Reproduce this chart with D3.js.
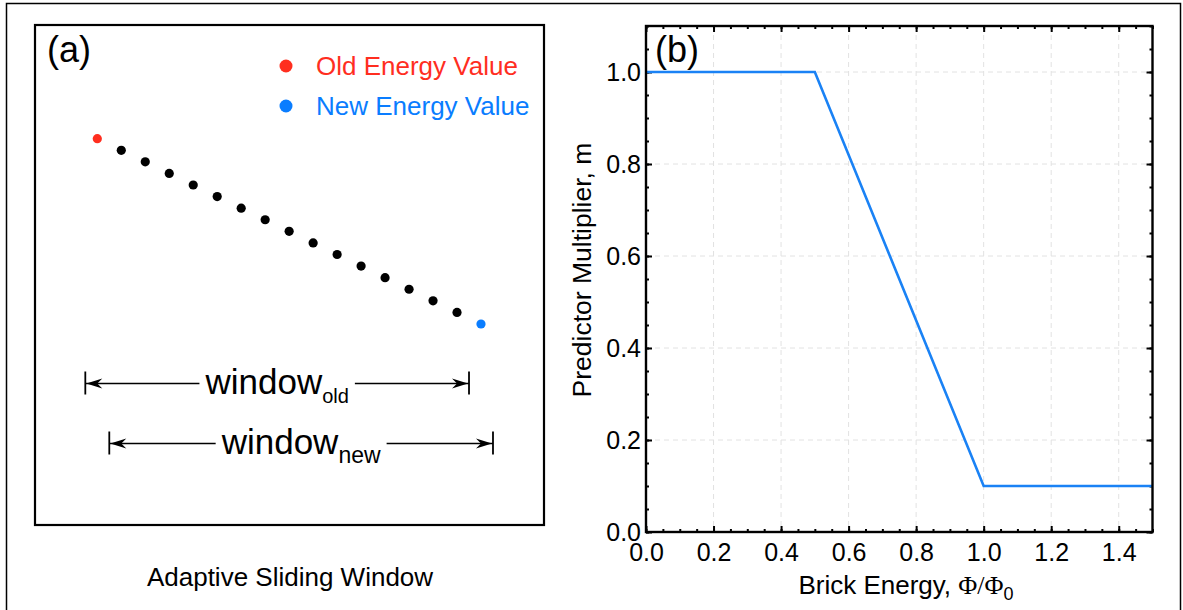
<!DOCTYPE html>
<html>
<head>
<meta charset="utf-8">
<script src="https://cdn.jsdelivr.net/npm/d3@7"></script>
<style>
  body { margin: 0; background: #fff; }
  svg { display: block; font-family: "Liberation Sans", Arial, sans-serif; }
</style>
</head>
<body>
<script>
// Panel (a): energies kept in the sliding window (first = old value, last = new value)
var steps  = [0, 1, 2, 3, 4, 5, 6, 7, 8, 9, 10, 11, 12, 13, 14, 15, 16];
var energy = [16, 15, 14, 13, 12, 11, 10, 9, 8, 7, 6, 5, 4, 3, 2, 1, 0];
var windowNames = ["old", "new"];
var windowFrom  = [-0.5, 0.5];
var windowTo    = [15.5, 16.5];
var legendLabels = ["Old Energy Value", "New Energy Value"];

// Panel (b): predictor multiplier vs brick energy
var brickEnergy = [0, 0.5, 1.0, 1.5];
var multiplier  = [1.0, 1.0, 0.1, 0.1];
var xTicks = [0, 0.2, 0.4, 0.6, 0.8, 1.0, 1.2, 1.4];
var yTicks = [0, 0.2, 0.4, 0.6, 0.8, 1.0];

var RED = "#ff2e1f", BLUE = "#0a7dff", LINE = "#1a82f5";

var svg = d3.select("body").append("svg")
    .attr("width", 1183)
    .attr("height", 610);

// outer frame (runs off the bottom)
svg.append("rect")
    .attr("x", 6.5).attr("y", 3.5)
    .attr("width", 1174).attr("height", 640)
    .attr("fill", "none").attr("stroke", "#000").attr("stroke-width", 1.5);

// ---------------- panel (a) ----------------
var ga = svg.append("g");
ga.append("rect")
    .attr("x", 35).attr("y", 25).attr("width", 509).attr("height", 500)
    .attr("fill", "none").attr("stroke", "#000").attr("stroke-width", 2.2);

ga.append("text").attr("x", 47).attr("y", 62)
    .style("font-size", "36px").text("(a)");

var sx = d3.scaleLinear().domain([0, 16]).range([97.3, 481]);
var sy = d3.scaleLinear().domain([16, 0]).range([138.7, 324]);

ga.selectAll("circle.pt")
    .data(steps)
    .enter().append("circle")
    .attr("class", "pt")
    .attr("cx", function(d) { return sx(d); })
    .attr("cy", function(d, i) { return sy(energy[i]); })
    .attr("r", 4.6)
    .attr("fill", function(d, i) {
        if (i === 0) return RED;
        if (i === steps.length - 1) return BLUE;
        return "#000";
    });

// legend
var leg = ga.selectAll("g.leg").data(legendLabels).enter().append("g")
    .attr("class", "leg")
    .attr("transform", function(d, i) { return "translate(286," + (66 + i * 40) + ")"; });
leg.append("circle").attr("r", 6.5).attr("fill", function(d, i) { return i ? BLUE : RED; });
leg.append("text").attr("x", 30).attr("y", 9)
    .style("font-size", "26px")
    .attr("fill", function(d, i) { return i ? BLUE : RED; })
    .text(function(d) { return d; });

// window arrows
var arrowY = [383.5, 443.5];
var subSize = [20, 23];
var head = function(g, x, y, dir) {
    g.append("path")
        .attr("d", "M0,0 L" + (-16 * dir) + ",-5 L" + (-11 * dir) + ",0 L" + (-16 * dir) + ",5 Z")
        .attr("transform", "translate(" + x + "," + y + ")")
        .attr("fill", "#000");
};
windowNames.forEach(function(name, i) {
    var g = ga.append("g");
    var x0 = sx(windowFrom[i]), x1 = sx(windowTo[i]), y = arrowY[i];
    var t = g.append("text").attr("y", y + 10).style("font-size", "35px");
    t.append("tspan").text("window");
    t.append("tspan").attr("dy", 9).style("font-size", subSize[i] + "px").text(name);
    var w = t.node().getComputedTextLength();
    var cx = (x0 + x1) / 2;
    t.attr("x", cx - w / 2);
    var gap = 6;
    g.append("line").attr("x1", x0).attr("x2", cx - w / 2 - gap).attr("y1", y).attr("y2", y)
        .attr("stroke", "#000").attr("stroke-width", 1.5);
    g.append("line").attr("x1", cx + w / 2 + gap).attr("x2", x1).attr("y1", y).attr("y2", y)
        .attr("stroke", "#000").attr("stroke-width", 1.5);
    [x0, x1].forEach(function(x) {
        g.append("line").attr("x1", x).attr("x2", x).attr("y1", y - 12).attr("y2", y + 11)
            .attr("stroke", "#000").attr("stroke-width", 1.8);
    });
    head(g, x0 + 1, y, -1);
    head(g, x1 - 1, y, 1);
});

ga.append("text").attr("x", 290).attr("y", 586)
    .attr("text-anchor", "middle")
    .style("font-size", "26px")
    .text("Adaptive Sliding Window");

// ---------------- panel (b) ----------------
var L = 646, R = 1152.5, T = 26, B = 532;
var x = d3.scaleLinear().domain([0, 1.5]).range([L, R]);
var y = d3.scaleLinear().domain([0, 1.1]).range([B, T]);
var gb = svg.append("g");

// dashed grid
gb.selectAll("line.gx").data(xTicks.slice(1)).enter().append("line")
    .attr("x1", function(d) { return x(d); }).attr("x2", function(d) { return x(d); })
    .attr("y1", T).attr("y2", B)
    .attr("stroke", "#e2e2e2").attr("stroke-dasharray", "5,4");
gb.selectAll("line.gy").data(yTicks.slice(1)).enter().append("line")
    .attr("y1", function(d) { return y(d); }).attr("y2", function(d) { return y(d); })
    .attr("x1", L).attr("x2", R)
    .attr("stroke", "#e2e2e2").attr("stroke-dasharray", "5,4");

var minorX = d3.range(0, 1.5001, 0.05);
var minorY = d3.range(0, 1.1001, 0.05);
var fmt = d3.format(".1f");

var styleAxis = function(g) {
    g.select(".domain").remove();
    g.selectAll("line").attr("stroke", "#000").attr("stroke-width", 2);
    g.selectAll("text").style("font-size", "25px").attr("fill", "#000")
        .style("font-family", "'Liberation Sans', Arial, sans-serif");
};

// minor ticks, all four sides
gb.append("g").attr("transform", "translate(0," + B + ")")
    .call(d3.axisBottom(x).tickValues(minorX).tickSize(-3).tickFormat("")).call(styleAxis);
gb.append("g").attr("transform", "translate(0," + T + ")")
    .call(d3.axisTop(x).tickValues(minorX).tickSize(-3).tickFormat("")).call(styleAxis);
gb.append("g").attr("transform", "translate(" + L + ",0)")
    .call(d3.axisLeft(y).tickValues(minorY).tickSize(-3).tickFormat("")).call(styleAxis);
gb.append("g").attr("transform", "translate(" + R + ",0)")
    .call(d3.axisRight(y).tickValues(minorY).tickSize(-3).tickFormat("")).call(styleAxis);

// major ticks + labels
gb.append("g").attr("transform", "translate(0," + B + ")")
    .call(d3.axisBottom(x).tickValues(xTicks).tickSize(-6).tickPadding(11).tickFormat(fmt)).call(styleAxis);
gb.append("g").attr("transform", "translate(0," + T + ")")
    .call(d3.axisTop(x).tickValues(xTicks).tickSize(-6).tickFormat("")).call(styleAxis);
gb.append("g").attr("transform", "translate(" + L + ",0)")
    .call(d3.axisLeft(y).tickValues(yTicks).tickSize(-6).tickPadding(5).tickFormat(fmt)).call(styleAxis);
gb.append("g").attr("transform", "translate(" + R + ",0)")
    .call(d3.axisRight(y).tickValues(yTicks).tickSize(-6).tickFormat("")).call(styleAxis);

// curve
var line = d3.line()
    .x(function(d, i) { return x(brickEnergy[i]); })
    .y(function(d) { return y(d); });
gb.append("path").datum(multiplier)
    .attr("d", line)
    .attr("fill", "none").attr("stroke", LINE).attr("stroke-width", 2.6);

// frame
gb.append("rect").attr("x", L).attr("y", T).attr("width", R - L).attr("height", B - T)
    .attr("fill", "none").attr("stroke", "#000").attr("stroke-width", 2.4);

gb.append("text").attr("x", 655).attr("y", 62)
    .style("font-size", "36px").text("(b)");

gb.append("text")
    .attr("transform", "translate(591,270) rotate(-90)")
    .attr("text-anchor", "middle")
    .style("font-size", "26.5px")
    .text("Predictor Multiplier, m");

var xl = gb.append("text").attr("x", 906).attr("y", 594)
    .attr("text-anchor", "middle").style("font-size", "26px");
xl.append("tspan").text("Brick Energy, ");
xl.append("tspan").style("font-family", "'Liberation Serif', 'Times New Roman', serif").text("\u03A6/\u03A6");
xl.append("tspan").attr("dy", 6).style("font-size", "18px").text("0");
</script>
</body>
</html>
